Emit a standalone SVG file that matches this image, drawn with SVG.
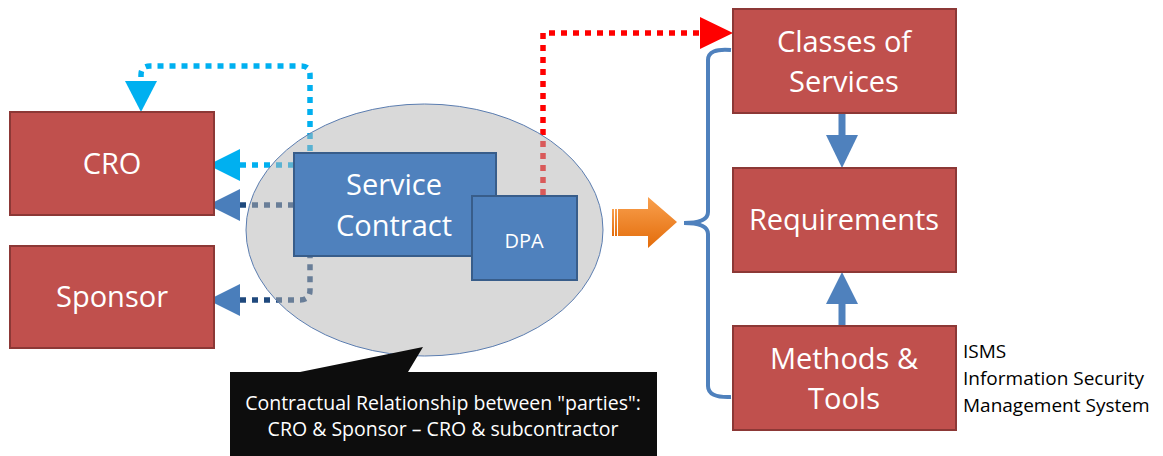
<svg xmlns="http://www.w3.org/2000/svg" width="1163" height="456" viewBox="0 0 1163 456">
<defs>
<style>
.red{fill:#C0504D;stroke:#8C3836;stroke-width:2}
.blue{fill:#4F81BD;stroke:#385D8A;stroke-width:2}
.wt{fill:#fff;font-family:"Open Sans","Liberation Sans",Arial,sans-serif;text-anchor:middle}
.bk{fill:#000;font-family:"Open Sans","Liberation Sans",Arial,sans-serif;font-size:19px}
.dot{fill:none;stroke-width:5.5;stroke-dasharray:6 6}
</style>
<linearGradient id="og" x1="0" y1="0" x2="0" y2="1">
<stop offset="0" stop-color="#F9A04E"/>
<stop offset="1" stop-color="#E36C0A"/>
</linearGradient>
</defs>
<rect width="1163" height="456" fill="#fff"/>
<g id="connectors">
<path class="dot" stroke="#00B0F0" d="M240 165 L310 165 L310 75 Q310 66 301 66 L150 66 Q141 66 141 75 L141 82"/>
<polygon points="208,165 240,149 240,181" fill="#00B0F0"/>
<polygon points="141,112 125,81 157,81" fill="#00B0F0"/>
<path class="dot" stroke="#1F497D" d="M240 205 L300 205"/>
<polygon points="208,205 240,189 240,221" fill="#4A7EBB"/>
<path class="dot" stroke="#1F497D" d="M240 300 L300 300 Q310 300 310 290 L310 256"/>
<polygon points="208,300 240,284 240,316" fill="#4A7EBB"/>
<path class="dot" stroke="#FF0000" d="M543 195 L543 33 L702 33"/>
<polygon points="733,33 700,17 700,49" fill="#FF0000"/>
<path d="M842 113 L842 137" stroke="#4F81BD" stroke-width="7"/>
<polygon points="826,135 858,135 842,168" fill="#4F81BD"/>
<path d="M842 326 L842 302" stroke="#4F81BD" stroke-width="7"/>
<polygon points="826,304 858,304 842,272" fill="#4F81BD"/>
<path d="M731 50 Q708 48 708 60 L708 212 Q708 223 684 223 Q708 223 708 234 L708 386 Q708 398 731 397" fill="none" stroke="#4F81BD" stroke-width="4"/>
</g>
<g id="contract-area">
<ellipse cx="424.5" cy="230" rx="178.5" ry="126" fill="#B3B3B3" fill-opacity="0.5" stroke="#5B7DB0" stroke-width="1"/>
</g>
<g id="orange-arrow">
<polygon points="618,209 648,209 648,197 677,222 648,248 648,236 618,236" fill="url(#og)"/>
<rect x="612" y="209" width="2" height="27" fill="url(#og)"/>
<rect x="615" y="209" width="2" height="27" fill="url(#og)"/>
</g>
<g id="cro">
<rect class="red" x="10" y="112" width="204" height="103"/>
<text class="wt" x="112" y="174" font-size="29">CRO</text>
</g>
<g id="sponsor">
<rect class="red" x="10" y="246" width="204" height="102"/>
<text class="wt" x="112" y="307" font-size="29">Sponsor</text>
</g>
<g id="service-contract">
<rect class="blue" x="294" y="153" width="202" height="103"/>
<text class="wt" x="394" y="195" font-size="29">Service</text>
<text class="wt" x="394" y="236" font-size="29">Contract</text>
</g>
<g id="dpa">
<rect class="blue" x="472" y="196" width="105" height="84"/>
<text class="wt" x="524" y="248" font-size="20">DPA</text>
</g>
<g id="classes">
<rect class="red" x="733" y="9" width="223" height="104"/>
<text class="wt" x="844" y="52" font-size="29">Classes of</text>
<text class="wt" x="844" y="92" font-size="29">Services</text>
</g>
<g id="requirements">
<rect class="red" x="733" y="168" width="223" height="104"/>
<text class="wt" x="844" y="230" font-size="29">Requirements</text>
</g>
<g id="methods">
<rect class="red" x="733" y="326" width="223" height="104"/>
<text class="wt" x="844" y="369" font-size="29">Methods &amp;</text>
<text class="wt" x="844" y="409" font-size="29">Tools</text>
</g>
<g id="isms">
<text class="bk" x="963" y="358">ISMS</text>
<text class="bk" x="963" y="385">Information Security</text>
<text class="bk" x="963" y="412">Management System</text>
</g>
<g id="callout">
<path d="M230 372 L300 372 L423 347 L408 372 L657 372 L657 456 L230 456 Z" fill="#0D0D0D"/>
<text class="wt" x="443" y="410" font-size="19.5">Contractual Relationship between "parties":</text>
<text class="wt" x="443" y="436" font-size="19.5">CRO &amp; Sponsor – CRO &amp; subcontractor</text>
</g>
</svg>
